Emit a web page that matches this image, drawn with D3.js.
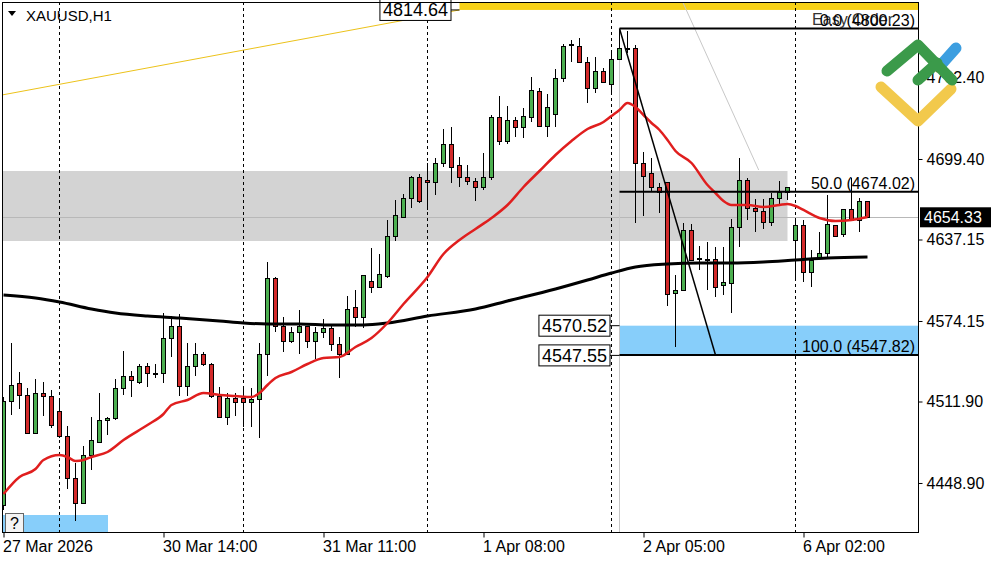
<!DOCTYPE html>
<html><head><meta charset="utf-8">
<script src="https://cdn.jsdelivr.net/npm/d3@7"></script>
<style>html,body{margin:0;padding:0;background:#fff;overflow:hidden}svg{display:block}</style>
</head><body><svg id="c" width="1000" height="562"></svg>
<script>
// ---------- DATA ----------
const symbolTitle = "XAUUSD,H1";
// H1 bars, index 0 = first visible bar (27 Mar 2026)
const opens  = [4431.88,4512.29,4525.44,4516.16,4487.55,4517.71,4515.39,4504.56,4484.46,4451.99,4433.43,4470.54,4480.59,4496.83,4498.38,4522.34,4531.62,4526.98,4539.35,4533.60,4533.17,4560.23,4569.51,4523.89,4539.35,4548.63,4540.13,4515.39,4499.15,4513.84,4514.61,4510.75,4513.07,4548.63,4606.62,4569.51,4557.91,4564.87,4569.51,4557.91,4564.87,4568.73,4555.59,4548.63,4584.20,4576.47,4605.07,4599.66,4608.17,4639.09,4654.55,4669.24,4684.71,4682.39,4680.84,4696.30,4710.99,4693.99,4684.71,4681.62,4676.98,4684.71,4731.10,4713.31,4728.78,4723.37,4731.10,4751.20,4724.14,4733.42,4761.25,4787.20,4786.76,4774.39,4753.52,4766.66,4757.38,4776.71,4784.45,4784.45,4696.30,4687.80,4676.98,4680.84,4595.79,4598.11,4644.50,4621.31,4621.31,4621.31,4601.21,4602.76,4646.82,4682.39,4661.51,4659.19,4649.92,4669.24,4673.11,4636.77,4647.60,4611.26,4622.85,4625.95,4647.60,4640.64,4659.97,4652.23,4666.15];
const highs  = [4515.39,4557.14,4534.71,4522.34,4529.30,4526.98,4520.80,4513.84,4492.97,4464.36,4477.50,4499.92,4518.48,4499.92,4529.30,4550.95,4535.49,4540.90,4541.67,4540.90,4580.33,4578.01,4579.56,4557.14,4557.14,4550.18,4541.67,4523.12,4518.48,4518.48,4523.12,4522.34,4557.14,4619.76,4608.17,4577.24,4569.51,4582.65,4570.30,4569.51,4575.69,4571.05,4561.78,4593.47,4598.11,4609.71,4630.59,4625.95,4652.23,4667.70,4672.34,4686.25,4687.80,4696.30,4700.17,4722.59,4724.14,4700.94,4694.76,4684.71,4704.04,4733.42,4748.11,4740.38,4731.87,4738.83,4762.80,4754.29,4749.65,4768.98,4788.31,4791.40,4792.95,4778.26,4778.26,4769.76,4783.67,4800.23,4798.36,4787.54,4704.81,4700.17,4680.84,4681.20,4609.71,4649.92,4649.14,4632.13,4635.23,4631.36,4631.36,4653.01,4700.17,4684.71,4668.47,4668.47,4673.11,4682.39,4677.75,4652.23,4652.23,4629.04,4642.96,4671.56,4648.00,4660.30,4684.71,4669.24,4666.50];
const lows   = [4428.02,4501.47,4506.11,4486.80,4486.80,4500.70,4491.42,4483.69,4444.25,4419.51,4432.90,4458.94,4479.82,4486.01,4497.60,4516.93,4515.39,4525.44,4523.12,4530.08,4526.21,4546.31,4516.16,4516.16,4531.62,4539.35,4514.61,4498.90,4493.74,4500.70,4492.19,4492.19,4483.69,4531.62,4565.64,4550.18,4557.50,4548.63,4553.27,4544.77,4561.00,4550.95,4530.08,4548.20,4569.51,4568.73,4595.79,4599.40,4607.39,4636.00,4653.78,4661.51,4665.38,4659.97,4671.56,4693.21,4680.84,4677.75,4679.30,4666.92,4675.43,4683.16,4710.22,4710.99,4716.41,4715.63,4728.00,4723.80,4716.41,4724.14,4758.93,4774.39,4774.00,4742.70,4750.43,4757.80,4748.88,4775.94,4781.35,4649.92,4655.33,4673.88,4657.65,4585.74,4554.04,4597.70,4620.20,4613.58,4598.11,4592.70,4594.25,4580.33,4631.36,4652.23,4642.96,4645.28,4647.60,4663.06,4667.70,4607.39,4604.30,4600.43,4622.50,4623.63,4639.50,4639.09,4651.10,4642.96,4654.00];
const closes = [4512.29,4524.66,4516.16,4487.55,4517.71,4515.39,4492.97,4484.46,4451.99,4433.43,4470.54,4481.37,4496.83,4498.38,4522.34,4531.62,4527.76,4539.35,4533.17,4533.94,4560.23,4569.51,4523.89,4539.35,4548.63,4540.13,4515.39,4499.15,4513.84,4510.75,4510.75,4513.07,4548.63,4606.62,4569.51,4557.91,4564.87,4569.51,4557.91,4564.87,4568.73,4555.59,4548.63,4583.42,4576.47,4608.94,4599.66,4609.71,4639.86,4655.33,4669.24,4684.71,4666.92,4680.84,4696.30,4710.99,4693.21,4684.71,4681.62,4676.98,4684.71,4731.10,4713.31,4728.78,4723.37,4731.87,4751.97,4724.14,4738.83,4761.25,4786.76,4787.54,4774.39,4753.52,4766.66,4758.16,4776.71,4784.45,4783.67,4695.53,4686.25,4676.98,4673.11,4594.25,4598.11,4643.73,4620.54,4622.85,4622.08,4600.43,4603.53,4646.82,4682.39,4661.51,4658.42,4649.92,4669.24,4673.11,4676.98,4647.60,4611.26,4620.54,4625.95,4648.37,4639.86,4659.97,4651.46,4666.15,4654.33];

// moving averages: [bar index, price]
const maFast = [[0,4440.39],[2,4453.53],[4,4459.72],[5,4466.68],[7,4470.54],[8,4469.0],[9,4465.9],[10,4466.68],[11,4469.0],[13,4472.86],[15,4482.14],[18,4493.74],[20,4502.24],[21,4509.2],[23,4513.07],[25,4518.48],[27,4516.93],[29,4516.16],[31,4515.39],[32,4518.48],[33,4524.66],[34,4530.08],[36,4534.71],[38,4540.9],[40,4545.54],[42,4546.31],[44,4554.04],[46,4561.0],[48,4572.6],[50,4587.29],[53,4608.17],[55,4625.95],[57,4636.77],[59,4645.28],[61,4653.78],[63,4663.83],[65,4677.75],[67,4690.12],[69,4702.49],[71,4713.31],[73,4722.59],[75,4728.0],[76,4732.64],[77,4737.28],[78,4742.7],[79,4739.6],[80,4733.42],[81,4727.23],[82,4721.82],[83,4714.09],[84,4705.58],[86,4696.3],[88,4679.3],[89,4673.11],[90,4666.92],[91,4663.83],[93,4663.83],[95,4662.29],[97,4663.83],[98,4664.61],[99,4663.06],[100,4659.97],[102,4653.78],[104,4651.46],[106,4652.23],[108,4654.55]];
const maSlow = [[0,4594.25],[4,4591.93],[7,4588.84],[11,4583.42],[14,4580.33],[18,4578.01],[22,4576.47],[27,4574.15],[30,4572.6],[33,4571.83],[37,4571.83],[41,4571.05],[45,4571.05],[48,4572.6],[53,4578.01],[59,4583.42],[63,4589.61],[69,4598.89],[73,4605.84],[76,4611.26],[79,4615.89],[83,4618.22],[87,4619.0],[91,4619.0],[95,4619.77],[99,4621.31],[103,4622.85],[108,4623.63]];

const priceTicks = [4762.40, 4699.40, 4637.15, 4574.15, 4511.90, 4448.90];
const timeTicks = [[0,"27 Mar 2026"],[20,"30 Mar 14:00"],[40,"31 Mar 11:00"],[60,"1 Apr 08:00"],[80,"2 Apr 05:00"],[100,"6 Apr 02:00"]];
const daySeparators = [7, 30, 53, 76, 99];
const currentPrice = 4654.33;

// drawn objects
const fibAnchor = [[77, 4800.23], [89, 4547.82]];
const fibLevels = [0, 50, 100];
const grayZone = {from: -1, to: 98, lo: 4636.00, hi: 4690.12};
const blueZone = {from: 77, lo: 4547.55, hi: 4570.52};
const yellowZone = {from: 57, lo: 4814.64};
const yellowTrend = [[-0.19, 4748.88], [57, 4814.64]];
const grayTrend = [[84.9, 4820.78], [94.4, 4690.89]];
const priceLabels = [4570.52, 4547.55];
const topLabel = 4814.64;

// ---------- CHART ----------
const L = 2, R = 918, T = 2, B = 532;
const svg = d3.select("#c");
const FONT = "'Liberation Sans', Arial, sans-serif";
const x = d3.scaleLinear().domain([-0.1875, 114.3125]).range([L, R]);
const y = d3.scaleLinear().domain([4411.01, 4820.78]).range([B, T]);
const bars = d3.range(opens.length).map(i => ({i, o: opens[i], h: highs[i], l: lows[i], c: closes[i]}));

svg.append("rect").attr("width", 1000).attr("height", 562).attr("fill", "#fff");
svg.append("defs").append("clipPath").attr("id", "plot")
  .append("rect").attr("x", L).attr("y", T).attr("width", R - L).attr("height", B - T);
const g = svg.append("g").attr("clip-path", "url(#plot)");

// zones
g.append("rect").attr("x", L).attr("width", x(grayZone.to) - L)
  .attr("y", y(grayZone.hi)).attr("height", y(grayZone.lo) - y(grayZone.hi)).attr("fill", "#d3d3d3");
g.append("rect").attr("x", x(blueZone.from)).attr("width", R - x(blueZone.from))
  .attr("y", y(blueZone.hi)).attr("height", y(blueZone.lo) - y(blueZone.hi)).attr("fill", "#87cefa");
g.append("rect").attr("x", x(yellowZone.from)).attr("width", R - x(yellowZone.from))
  .attr("y", T).attr("height", y(yellowZone.lo) - T).attr("fill", "#f7d117");
// small easy-order strip bottom left
g.append("rect").attr("x", x(0) - 0.5).attr("width", x(13) - x(0) + 1)
  .attr("y", y(4424.15)).attr("height", B - y(4424.15)).attr("fill", "#87cefa");

// day separators
g.selectAll("line.sep").data(daySeparators).join("line")
  .attr("x1", d => x(d)).attr("x2", d => x(d)).attr("y1", T).attr("y2", B)
  .attr("stroke", "#000").attr("stroke-width", 1).attr("stroke-dasharray", "3,3");

// current price line
g.append("line").attr("x1", L).attr("x2", R).attr("y1", Math.round(y(currentPrice)) + 0.5).attr("y2", Math.round(y(currentPrice)) + 0.5)
  .attr("stroke", "#b8b8b8").attr("stroke-width", 1);
// fib vertical start
g.append("line").attr("x1", x(fibAnchor[0][0])).attr("x2", x(fibAnchor[0][0]))
  .attr("y1", y(fibAnchor[0][1])).attr("y2", B).attr("stroke", "#c8c8c8").attr("stroke-width", 1);
// gray trend
g.append("line").attr("x1", x(grayTrend[0][0])).attr("y1", y(grayTrend[0][1]))
  .attr("x2", x(grayTrend[1][0])).attr("y2", y(grayTrend[1][1])).attr("stroke", "#c8c8c8").attr("stroke-width", 1);
// yellow trend
g.append("line").attr("x1", x(yellowTrend[0][0])).attr("y1", y(yellowTrend[0][1]))
  .attr("x2", x(yellowTrend[1][0])).attr("y2", y(yellowTrend[1][1])).attr("stroke", "#ecc21a").attr("stroke-width", 1);

// candles
const cg = g.append("g").attr("shape-rendering", "crispEdges");
cg.selectAll("line.w").data(bars).join("line")
  .attr("x1", d => x(d.i)).attr("x2", d => x(d.i)).attr("y1", d => y(d.h)).attr("y2", d => y(d.l))
  .attr("stroke", "#000").attr("stroke-width", 1);
cg.selectAll("rect.b").data(bars).join("rect")
  .attr("x", d => x(d.i) - 2).attr("width", 4)
  .attr("y", d => y(Math.max(d.o, d.c)))
  .attr("height", d => Math.max(1, Math.abs(y(d.o) - y(d.c))))
  .attr("fill", d => d.c >= d.o ? "#4caf50" : "#d32a2a")
  .attr("stroke", "#000").attr("stroke-width", 1);

// moving averages
const line = d3.line().x(d => x(d[0])).y(d => y(d[1])).curve(d3.curveMonotoneX);
g.append("path").attr("d", line(maSlow)).attr("fill", "none").attr("stroke", "#000").attr("stroke-width", 3);
g.append("path").attr("d", line(maFast)).attr("fill", "none").attr("stroke", "#e01e1e").attr("stroke-width", 2.5);

// fib trend line and levels
g.append("line").attr("x1", x(fibAnchor[0][0])).attr("y1", y(fibAnchor[0][1]))
  .attr("x2", x(fibAnchor[1][0])).attr("y2", y(fibAnchor[1][1])).attr("stroke", "#000").attr("stroke-width", 1.5);
const fibHi = fibAnchor[0][1], fibLo = fibAnchor[1][1];
const fibData = fibLevels.map(l => ({l, p: fibHi - (fibHi - fibLo) * l / 100}));
g.selectAll("line.fib").data(fibData).join("line")
  .attr("x1", x(fibAnchor[0][0])).attr("x2", R)
  .attr("y1", d => y(d.p)).attr("y2", d => y(d.p)).attr("stroke", "#000").attr("stroke-width", 2);
g.append("text").attr("x", 915).attr("y", y(fibData[0].p) - 4).attr("text-anchor", "end")
  .attr("font-family", FONT).attr("font-size", 16).attr("fill", "#333").text("Easy Order")
  .attr("dx", -22);
g.selectAll("text.fib").data(fibData).join("text")
  .attr("x", 915).attr("y", d => y(d.p) - 3).attr("text-anchor", "end")
  .attr("font-family", FONT).attr("font-size", 16).attr("fill", "#000")
  .text(d => d.l.toFixed(1) + " (" + d.p.toFixed(2) + ")");

// price labels boxes
function boxLabel(p, xr, xLine) {
  const yy = y(p);
  svg.append("line").attr("x1", xr).attr("x2", xLine).attr("y1", yy).attr("y2", yy).attr("stroke", "#000").attr("stroke-width", 1);
  const t = svg.append("text").attr("x", xr - 3).attr("y", yy + 6.5).attr("text-anchor", "end")
    .attr("font-family", FONT).attr("font-size", 18).attr("fill", "#000").text(p.toFixed(2));
  const bb = t.node().getBBox();
  svg.insert("rect", () => t.node()).attr("x", bb.x - 3).attr("y", yy - 10.5).attr("width", bb.width + 6).attr("height", 21)
    .attr("fill", "#fff").attr("stroke", "#000").attr("stroke-width", 1);
}
priceLabels.forEach(p => boxLabel(p, 610, x(blueZone.from)));
boxLabel(topLabel, 451, x(yellowZone.from));

// question box
svg.append("rect").attr("x", 5.5).attr("y", 513.5).attr("width", 18).attr("height", 19).attr("fill", "#f4f4f4").attr("stroke", "#666");
svg.append("text").attr("x", 14.5).attr("y", 529).attr("text-anchor", "middle").attr("font-family", FONT).attr("font-size", 16).text("?");

// title
svg.append("path").attr("d", "M8,11 L16,11 L12,16 Z").attr("fill", "#000");
svg.append("text").attr("x", 26).attr("y", 21).attr("font-family", FONT).attr("font-size", 15).text(symbolTitle);

// frame
svg.append("rect").attr("x", L + 0.5).attr("y", T + 0.5).attr("width", R - L).attr("height", B - T)
  .attr("fill", "none").attr("stroke", "#000").attr("stroke-width", 1).attr("shape-rendering", "crispEdges");

// right axis
const ya = svg.append("g").attr("transform", `translate(${R + 0.5},0)`)
  .call(d3.axisRight(y).tickValues(priceTicks).tickFormat(d3.format(".2f")).tickSize(4).tickPadding(4));
ya.select(".domain").remove();
ya.selectAll("text").attr("font-family", FONT).attr("font-size", 16).attr("fill", "#000");
ya.selectAll("line").attr("stroke", "#000");

// bottom axis
const xa = svg.append("g").attr("transform", `translate(0,${B + 0.5})`)
  .call(d3.axisBottom(x).tickValues(timeTicks.map(d => d[0])).tickFormat((d, k) => timeTicks[k][1]).tickSize(5).tickPadding(3));
xa.select(".domain").remove();
xa.selectAll("text").attr("font-family", FONT).attr("font-size", 16).attr("fill", "#000").attr("text-anchor", "start").attr("dx", -1);
xa.selectAll("line").attr("stroke", "#000");

// current price tag
const tagY = y(currentPrice);
svg.append("rect").attr("x", 920).attr("y", tagY - 10).attr("width", 71).attr("height", 20).attr("fill", "#000");
svg.append("text").attr("x", 924).attr("y", tagY + 6).attr("font-family", FONT).attr("font-size", 16).attr("fill", "#fff").text(currentPrice.toFixed(2));

// logo
const lg = svg.append("g").attr("fill", "none").attr("stroke-linecap", "round").attr("stroke-linejoin", "round").attr("stroke-width", 11);
lg.append("path").attr("d", "M881,87 L918,121 L951,89").attr("stroke", "#f2c94c");
lg.append("path").attr("d", "M940,66 L956,48").attr("stroke", "#3c9ee0");
lg.append("path").attr("d", "M887,71 L918,45 L952,80").attr("stroke", "#3b9a4a");
lg.append("path").attr("d", "M918,80 L937,63").attr("stroke", "#3b9a4a");
</script></body></html>
